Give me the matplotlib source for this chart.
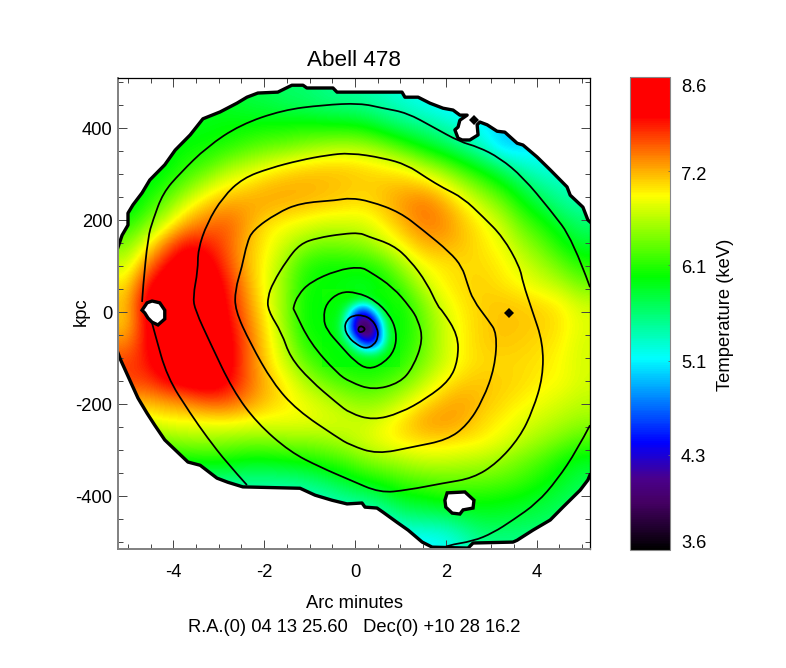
import numpy as np
import matplotlib
matplotlib.use("Agg")
import matplotlib.pyplot as plt
from matplotlib.colors import LinearSegmentedColormap, LogNorm
from matplotlib.path import Path
from matplotlib.patches import PathPatch
from matplotlib.ticker import MultipleLocator, FixedLocator, NullLocator

plt.rcParams['font.family'] = ['Liberation Sans', 'DejaVu Sans']
plt.rcParams['axes.unicode_minus'] = False

x_limits = [-5.22, 5.176]
y_limits = [-515, 508.7]
t_range = [3.6, 8.6]
cbar_ticks = [3.6, 4.29, 5.1, 6.08, 7.23, 8.6]
cbar_labels = ['3.6', '4.3', '5.1', '6.1', '7.2', '8.6']

# Temperature (keV), coarse map, top row first
temperature_map = [
    [5.8,5.8,5.8,5.8,5.8,5.8,5.7,5.7,5.6,5.6,5.5,5.45,5.4,5.3,5.2,5.15,5.1,5.1,5.1,5.1,5.1,5.1,5.1,5.1],
    [5.8,5.8,5.8,5.8,5.85,5.85,5.8,5.75,5.7,5.65,5.6,5.55,5.5,5.4,5.3,5.2,5.1,5.05,5.05,5.0,5.0,5.0,5.0,5.0],
    [5.8,5.8,5.85,5.9,5.9,5.95,5.95,6.0,6.0,6.05,6.0,6.0,5.95,5.75,5.6,5.5,5.4,5.25,5.1,5.0,4.95,5.0,5.0,5.0],
    [5.8,5.85,5.9,5.95,6.0,6.05,6.2,6.3,6.35,6.45,6.55,6.6,6.55,6.4,6.15,5.9,5.7,5.5,5.3,4.95,5.0,5.1,5.1,5.1],
    [5.85,5.85,5.9,6.1,6.2,6.5,6.65,6.8,6.95,7.05,7.1,7.1,7.05,6.95,6.85,6.6,6.35,6.05,5.8,5.55,5.3,5.2,5.2,5.2],
    [5.85,5.9,6.1,6.35,6.7,6.95,7.05,7.2,7.25,7.25,7.2,7.15,7.1,7.15,7.2,7.15,6.95,6.6,6.3,6.0,5.7,5.45,5.35,5.3],
    [5.8,6.1,6.4,6.85,7.15,7.3,7.3,7.25,7.2,7.15,7.1,7.05,7.0,7.15,7.35,7.5,7.3,7.0,6.7,6.4,6.0,5.75,5.5,5.4],
    [6.1,6.4,6.85,7.3,7.5,7.6,7.3,7.0,6.9,6.8,6.7,6.7,6.75,6.95,7.2,7.45,7.4,7.15,6.95,6.7,6.3,6.05,5.8,5.6],
    [6.4,6.9,7.5,8.0,7.9,7.6,7.2,6.95,6.7,6.45,6.35,6.4,6.45,6.7,6.95,7.2,7.25,7.15,7.0,6.85,6.55,6.3,6.0,5.8],
    [6.7,7.4,8.0,8.4,8.2,7.7,7.2,6.9,6.5,6.1,6.0,6.0,6.05,6.2,6.6,6.9,7.0,7.05,7.05,6.95,6.75,6.55,6.3,6.05],
    [7.0,7.9,8.4,8.6,8.4,7.9,7.3,6.85,6.45,6.0,5.95,5.9,5.8,5.95,6.25,6.7,6.95,7.05,7.1,7.0,6.9,6.75,6.6,6.35],
    [7.15,8.2,8.6,8.6,8.5,8.0,7.4,6.9,6.45,5.95,5.95,5.95,5.95,5.95,6.0,6.4,6.8,7.0,7.1,7.15,7.1,7.05,6.95,6.7],
    [7.1,8.1,8.6,8.6,8.6,8.1,7.5,7.0,6.45,5.95,5.95,5.95,5.95,5.95,5.95,6.3,6.7,6.95,7.1,7.15,7.15,7.1,7.0,6.8],
    [7.4,8.0,8.6,8.6,8.6,8.2,7.6,7.05,6.6,6.05,5.95,5.95,5.95,5.95,6.0,6.3,6.7,6.95,7.1,7.15,7.1,7.05,6.95,6.75],
    [7.7,7.9,8.4,8.6,8.6,8.2,7.6,7.1,6.7,6.3,6.05,5.95,5.95,5.95,6.1,6.4,6.7,6.95,7.05,7.05,7.05,7.0,6.9,6.75],
    [7.7,7.7,8.0,8.2,8.3,8.1,7.6,7.2,6.95,6.6,6.35,6.2,6.1,6.2,6.35,6.65,6.95,7.1,7.15,7.1,7.05,6.95,6.9,6.75],
    [7.2,7.2,7.3,7.4,7.6,7.6,7.4,7.15,7.0,6.85,6.7,6.55,6.45,6.5,6.75,7.0,7.2,7.3,7.15,7.05,6.95,6.85,6.75,6.65],
    [6.7,6.8,6.9,6.9,6.9,6.95,6.9,6.85,6.85,6.85,6.8,6.75,6.7,6.85,7.05,7.3,7.35,7.25,7.05,6.95,6.8,6.7,6.6,6.5],
    [6.2,6.3,6.4,6.5,6.5,6.45,6.4,6.4,6.45,6.45,6.5,6.6,6.75,6.9,7.0,7.05,7.05,7.0,6.95,6.8,6.65,6.5,6.35,6.2],
    [5.8,5.9,5.9,5.95,6.0,6.0,5.9,5.9,5.95,6.0,6.1,6.2,6.4,6.5,6.6,6.7,6.7,6.65,6.6,6.5,6.35,6.2,6.0,5.85],
    [5.5,5.5,5.5,5.5,5.5,5.5,5.5,5.5,5.5,5.55,5.65,5.8,5.95,6.05,6.2,6.25,6.3,6.3,6.3,6.25,6.15,6.0,5.85,5.7],
    [5.3,5.3,5.3,5.3,5.3,5.3,5.3,5.3,5.3,5.3,5.35,5.45,5.5,5.65,5.85,5.9,6.0,6.0,6.0,5.95,5.9,5.8,5.7,5.6],
    [5.2,5.2,5.2,5.2,5.2,5.2,5.2,5.2,5.2,5.2,5.2,5.2,5.25,5.3,5.45,5.5,5.5,5.65,5.75,5.75,5.7,5.65,5.6,5.5],
    [5.1,5.1,5.1,5.1,5.1,5.1,5.1,5.1,5.1,5.1,5.1,5.1,5.1,5.1,5.1,5.1,5.15,5.3,5.5,5.5,5.5,5.5,5.5,5.4],
]

# Finer temperature readings over the cool core
core_extent = [-0.727, 0.969, -119.6, 47.8]
core_map = [
    [6.0,6.0,6.0,6.0,5.95,5.9,5.9,5.95,6.0,6.0,6.05],
    [6.0,5.95,5.95,5.95,5.85,5.7,5.75,5.9,5.95,6.0,6.05],
    [5.95,5.95,5.9,5.7,5.2,4.85,4.95,5.45,5.85,5.95,6.0],
    [5.95,5.95,5.85,5.35,4.65,4.35,4.45,4.85,5.6,5.95,6.0],
    [5.95,5.9,5.8,5.1,4.45,4.0,4.05,4.45,5.2,5.85,5.95],
    [5.95,5.9,5.75,5.05,4.4,3.9,3.9,4.2,5.0,5.8,5.95],
    [5.95,5.95,5.8,5.25,4.6,4.15,4.05,4.3,4.95,5.7,5.95],
    [5.95,5.95,5.85,5.65,5.1,4.6,4.4,4.55,5.05,5.8,5.95],
    [6.0,5.95,5.95,5.85,5.6,5.2,5.0,5.1,5.5,5.9,5.95],
    [6.0,5.95,5.95,5.95,5.9,5.8,5.75,5.75,5.9,5.95,6.0],
    [6.05,6.0,5.95,5.95,5.95,5.95,5.95,5.95,5.95,6.0,6.05],
]

# Surface brightness contours (arcmin, kpc)
c0_x = [.066,.11,.198,.22,.154,.088,.066]
c0_y = [-37,-30,-33,-39,-43.5,-43.5,-37]
c1_x = [-.236,-.183,-.037,.183,.368,.491,.513,.419,.22,0,-.148,-.236]
c1_y = [-35,-17,-7,-7,-16,-35,-54,-72,-80,-68,-54,-35]
c2_x = [-.698,-.639,-.33,.037,.44,.771,.918,.881,.623,.293,0,-.33,-.623,-.698]
c2_y = [-14,19,44,43,26,-7,-43,-83,-112,-125,-108,-72,-39,-14]
c3_x = [.11,.33,.837,1.21,1.39,1.5,1.28,.99,.396,-.11,-.396,-.99,-1.34,-1.366,-1.256,-.99,-.396,.11]
c3_y = [98.5,87.6,54,11,-17,-61,-120,-154,-170,-152,-133,-67,4,9,37,65,91,98.5]
c4_x = [.11,.264,.837,1.21,1.586,1.83,1.92,2.27,2.27,2.09,1.586,.99,.396,-.11,-.396,-.99,-1.43,-1.61,-1.92,-1.92,-1.81,-1.5,-1.21,-.837,-.264,.11]
c4_y = [172,165,146,113,63,11,4,-50,-104,-148,-187,-220,-235,-220,-198,-148,-98,-46,4,33,63,113,148,161,170,172]
c5_x = [-.11,.33,.99,1.5,2.09,2.36,2.47,2.6,2.93,3.13,3.08,2.82,2.47,2.03,1.28,.485,-.11,-.396,-1.28,-1.81,-2.31,-2.64,-2.64,-2.49,-2.38,-2.25,-1.72,-1.21,-.396,-.11]
c5_y = [248,241,217,178,130,98,63,26,-17,-46,-120,-191,-246,-278,-293,-309,-289,-272,-213,-154,-67,4,48,98,150,178,215,237,243,248]
c6_x = [-.11,.617,1.145,1.586,1.94,2.38,2.82,3.26,3.63,3.7,3.9,4.14,4.14,3.92,3.63,3.13,2.6,1.94,1.145,.55,-.11,-.77,-1.43,-2.16,-2.69,-3.19,-3.52,-3.57,-3.46,-3.46,-3.26,-2.91,-2.47,-1.87,-1.21,-.617,-.11]
c6_y = [346,335,320,291,270,248,207,163,98,63,4,-67,-141,-213,-272,-328,-361,-372,-387,-393,-365,-337,-304,-241,-170,-67,4,33,91,135,193,250,291,313,330,341,346]
c7a_x = [-4.69,-4.67,-4.56,-4.45,-4.23,-3.85,-3.26,-2.53,-1.59,-.705,.11,.617,1.145,1.72,2.31,2.71,3.19,3.7,4.3,4.8,5.176]
c7a_y = [22,54,163,200,259,302,359,407,439,450,454,443,433,402,370,359,335,293,222,157,54]
c7b_x = [5.176,4.89,4.45,4.01,3.48,3.04,2.6,2.03,1.94]
c7b_y = [-246,-300,-365,-415,-452,-480,-498,-507,-513]
c7c_x = [-4.47,-4.41,-4.14,-3.63,-3.26,-2.82,-2.38]
c7c_y = [-24,-46,-141,-220,-272,-328,-376]
contours = [(c0_x,c0_y),(c1_x,c1_y),(c2_x,c2_y),(c3_x,c3_y),(c4_x,c4_y),(c5_x,c5_y),(c6_x,c6_y),(c7a_x,c7a_y),(c7b_x,c7b_y),(c7c_x,c7c_y)]

# Edge of the mapped region
edge_upper_x = [-5.22,-5.13,-5.0,-5.0,-4.89,-4.69,-4.52,-4.19,-3.96,-3.63,-3.35,-2.97,-2.6,-2.38,-2.14,-1.7,-1.39,-1.145,-1.06,-.485,-.396,1.035,1.1,1.39,1.65,1.94,2.16,2.31,2.47,2.31,2.27,2.2,2.27,2.36,2.53,2.71,2.69,2.75,2.91,3.13,3.3,3.57,3.7,4.01,4.3,4.67,4.74,5.02,5.13,5.176]
edge_upper_y = [141,167,189,215,233,259,287,320,352,385,420,435,454,467,476,478,493,493,487,487,478,478,467,467,454,443,439,428,428,417,402,396,378,374,374,385,407,413,407,393,391,367,363,337,309,272,254,228,200,196]
edge_lower_x = [5.176,5.13,4.96,4.58,4.3,3.92,3.57,3.48,2.6,2.49,1.7,1.48,1.17,.925,.617,.485,.22,.154,-.176,-.507,-.88,-1.21,-2.47,-2.8,-3.04,-3.41,-3.68,-4.19,-4.41,-4.58,-4.78,-4.96,-5.18,-5.22]
edge_lower_y = [-354,-365,-387,-424,-452,-474,-496,-500,-502,-513,-511,-500,-474,-457,-435,-426,-424,-415,-417,-409,-398,-383,-380,-370,-361,-333,-326,-278,-246,-220,-187,-148,-100,-89]
hole1_x = [-4.69,-4.58,-4.47,-4.3,-4.19,-4.19,-4.34,-4.47,-4.56,-4.63]
hole1_y = [4,20,24,20,4,-15,-28,-22,-13,-2]
hole2_x = [2.03,2.42,2.62,2.6,2.38,2.31,2.14,2.0,1.98]
hole2_y = [-393,-391,-409,-426,-430,-439,-437,-424,-409]
spot_x = [3.39,2.62]
spot_y = [-2,417]

cmap = LinearSegmentedColormap.from_list('temp', [
    (0.0, (0, 0, 0)), (0.10, (0.27, 0, 0.39)), (0.15, (0.29, 0, 0.55)),
    (0.226, (0, 0, 1)), (0.405, (0, 1, 1)), (0.578, (0, 1, 0)),
    (0.75, (1, 1, 0)), (0.917, (1, 0, 0)), (1.0, (1, 0, 0))], N=256)
norm = LogNorm(t_range[0], t_range[1])


def rounded_path(xs, ys):
    """Quadratic path using the read vertices as control points."""
    p = np.column_stack([xs, ys]).astype(float)
    closed = np.allclose(p[0], p[-1])
    if closed:
        p = p[:-1]
        mids = (p + np.roll(p, -1, axis=0)) / 2
        verts = [mids[-1]]
        codes = [Path.MOVETO]
        for i in range(len(p)):
            verts += [p[i], mids[i]]
            codes += [Path.CURVE3, Path.CURVE3]
    else:
        verts = [p[0]]
        codes = [Path.MOVETO]
        for i in range(1, len(p) - 1):
            end = (p[i] + p[i + 1]) / 2 if i < len(p) - 2 else p[-1]
            verts += [p[i], end]
            codes += [Path.CURVE3, Path.CURVE3]
    return Path(np.array(verts), codes)


W, H = 786, 668
fig = plt.figure(figsize=(W/100, H/100), dpi=100)
ax = fig.add_axes([118/W, (H-549)/H, 472/W, 471/H])

extent = [x_limits[0], x_limits[1], y_limits[0], y_limits[1]]
im = ax.imshow(np.array(temperature_map), extent=extent, origin='upper', cmap=cmap, norm=norm,
               aspect='auto', interpolation='bicubic', interpolation_stage='data')
im2 = ax.imshow(np.array(core_map), extent=core_extent, origin='upper', cmap=cmap, norm=norm,
                aspect='auto', interpolation='bicubic', interpolation_stage='data')

clip_x = edge_upper_x + [5.4, 5.4] + edge_lower_x + [-5.4, -5.4]
clip_y = edge_upper_y + [edge_upper_y[-1], edge_lower_y[0]] + edge_lower_y + [edge_lower_y[-1], edge_upper_y[0]]
clip = Path(np.column_stack([clip_x + clip_x[:1], clip_y + clip_y[:1]]), closed=True)
im.set_clip_path(clip, ax.transData)
im2.set_clip_path(clip, ax.transData)

for cx, cy in contours:
    ax.add_patch(PathPatch(rounded_path(cx, cy), fc='none', ec='black', lw=1.25, zorder=2))
ax.plot(edge_upper_x, edge_upper_y, color='black', lw=2.4, solid_joinstyle='round')
ax.plot(edge_lower_x, edge_lower_y, color='black', lw=2.4, solid_joinstyle='round')
ax.fill(hole1_x, hole1_y, fc='white', ec='black', lw=2.4, zorder=3)
ax.fill(hole2_x, hole2_y, fc='white', ec='black', lw=2.4, zorder=3)
ax.plot(spot_x, spot_y, 'D', color='black', ms=4.6, mew=0)

ax.set_xlim(x_limits)
ax.set_ylim(y_limits)
ax.xaxis.set_major_locator(MultipleLocator(2))
ax.xaxis.set_minor_locator(MultipleLocator(0.5))
ax.yaxis.set_major_locator(MultipleLocator(200))
ax.yaxis.set_minor_locator(MultipleLocator(50))
ax.tick_params(which='both', direction='in', top=True, right=True, color='#444444', width=0.7)
ax.tick_params(which='major', length=6.8)
ax.tick_params(which='minor', length=3.4)
ax.tick_params(axis='x', which='major', labelsize=13.2, pad=10.5)
ax.tick_params(axis='y', which='major', labelsize=13.2, pad=4)
for s in ['left', 'bottom']:
    ax.spines[s].set_color('#808080')
    ax.spines[s].set_linewidth(1.4)
for s in ['top', 'right']:
    ax.spines[s].set_color('black')
    ax.spines[s].set_linewidth(0.9)

fig.text(354/W, 1-61/H, 'Abell 478', ha='center', va='center', fontsize=16.2)
fig.text(354/W, 1-603.5/H, 'Arc minutes', ha='center', va='center', fontsize=13.2)
fig.text(354/W, 1-628/H, 'R.A.(0) 04 13 25.60   Dec(0) +10 28 16.2', ha='center', va='center', fontsize=13.2)
fig.text(81/W, 1-312/H, 'kpc', rotation=90, ha='center', va='center', fontsize=13.2)
fig.text(726/W, 1-315/H, 'Temperature (keV)', rotation=90, ha='center', va='center', fontsize=13.2)

cax = fig.add_axes([630/W, (H-550)/H, 40/W, 473/H])
cb = fig.colorbar(im, cax=cax)
cb.minorticks_off()
cax.yaxis.set_major_locator(FixedLocator(cbar_ticks))
cax.yaxis.set_minor_locator(NullLocator())
cax.set_yticklabels([])
cax.tick_params(axis='y', which='major', length=1.5, width=0.6, direction='in', color='#666666')
cb.outline.set_edgecolor('#888888')
cb.outline.set_linewidth(0.8)
# The value labels sit slightly off their ticks in the original
cbar_label_rows = [543, 458, 363, 269, 175, 87]
for label, row in zip(cbar_labels, cbar_label_rows):
    fig.text(681/W, 1-row/H, label, ha='left', va='center', fontsize=13.2)

fig.savefig('out.png', dpi=100)
